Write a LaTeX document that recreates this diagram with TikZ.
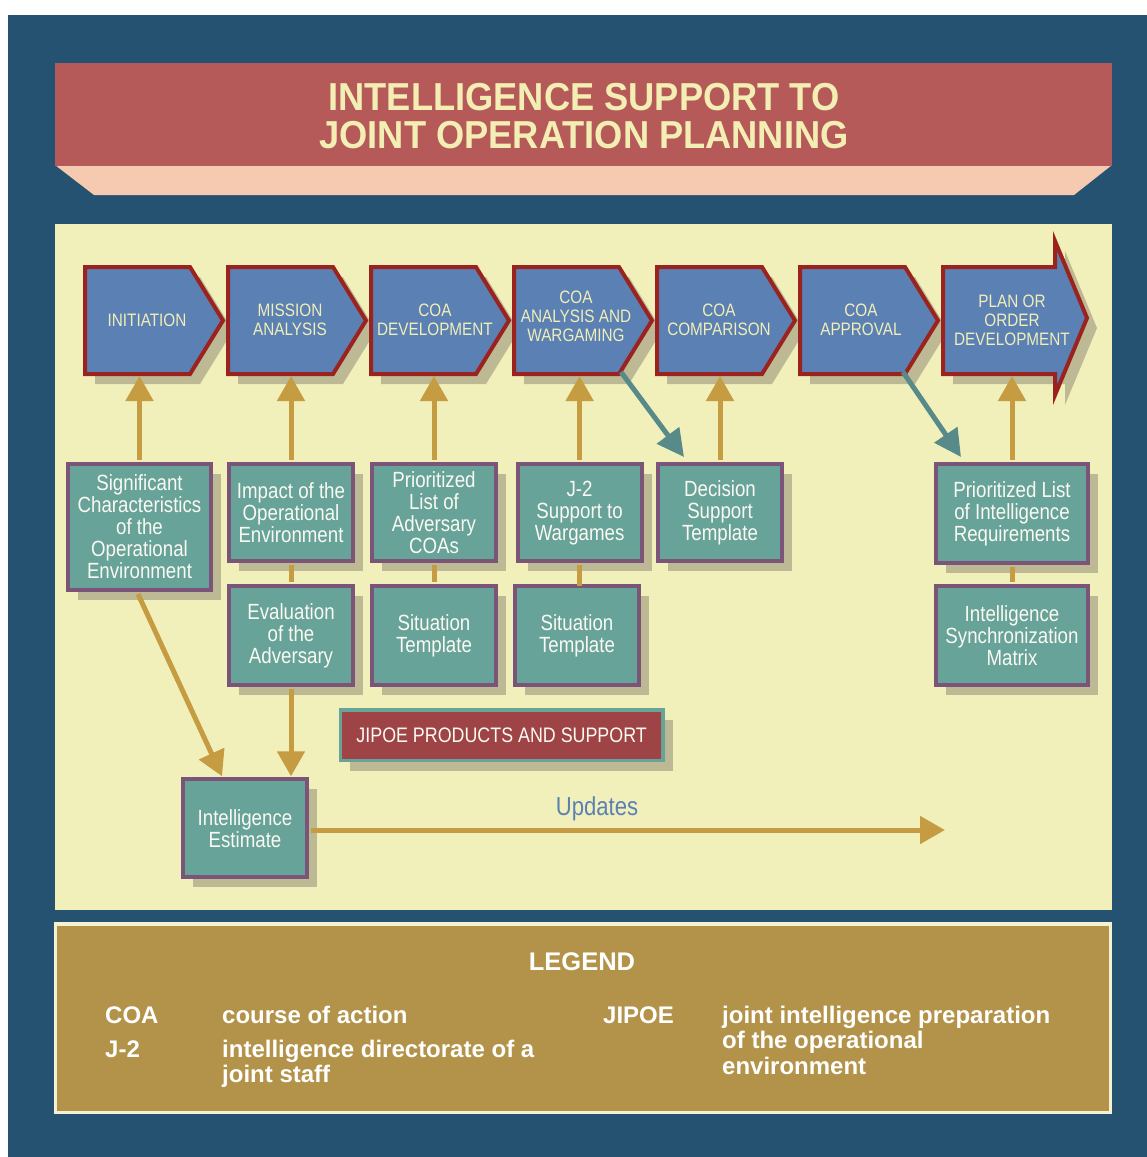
\documentclass[tikz,border=0pt]{standalone}
\usepackage{fontspec}
\setmainfont{Liberation Sans}
\newfontfamily\condfont[FakeStretch=0.85]{Liberation Sans}
\newfontfamily\titlefont[FakeStretch=0.93]{Liberation Sans}
\usetikzlibrary{arrows.meta,shadows,calc}

\definecolor{bgblue}{HTML}{245270}
\definecolor{titlered}{HTML}{B65A59}
\definecolor{peach}{HTML}{F5CAB0}
\definecolor{panel}{HTML}{F2F0BA}
\definecolor{titletxt}{HTML}{F3EEB4}
\definecolor{chevblue}{HTML}{5B80B4}
\definecolor{chevred}{HTML}{9B231F}
\definecolor{chevtxt}{HTML}{F1EEB7}
\definecolor{shadowc}{HTML}{BDB995}
\definecolor{boxteal}{HTML}{67A398}
\definecolor{boxpurple}{HTML}{7B5578}
\definecolor{boxtxt}{HTML}{FAF9F2}
\definecolor{gold}{HTML}{C59C42}
\definecolor{tealarrow}{HTML}{588A8A}
\definecolor{jipoered}{HTML}{9E4446}
\definecolor{legendgold}{HTML}{B39349}
\definecolor{legendborder}{HTML}{F5F2D3}

\tikzset{
  chevst/.style={fill=chevblue, draw=chevred, line width=4pt, line join=miter},
  chevtext/.style={text=chevtxt, font=\condfont\fontsize{18}{19}\selectfont, align=center, inner sep=0pt},
  ibox/.style={fill=boxteal, draw=boxpurple, line width=4pt, text=boxtxt,
    font=\condfont\fontsize{22}{22}\selectfont, align=center, inner sep=0pt,
    general shadow={fill=shadowc, shadow xshift=10pt, shadow yshift=-10pt}},
  jbox/.style={fill=jipoered, draw=boxteal, line width=3.5pt, text=boxtxt,
    font=\condfont\fontsize{21}{21}\selectfont, inner sep=0pt,
    general shadow={fill=shadowc, shadow xshift=10pt, shadow yshift=-10pt}},
  garrow/.style={draw=gold, line width=5pt, -{Triangle[width=27pt,length=25pt]}},
  gline/.style={draw=gold, line width=5pt},
  tarrow/.style={draw=tealarrow, line width=5pt, -{Triangle[width=27pt,length=27pt]}},
  legtext/.style={text=white, font=\fontsize{24}{25}\selectfont\bfseries, anchor=base west, inner sep=0pt},
}

\newcommand\mychev[5]{%
  \fill[shadowc] (#1+12,277) -- (#1+117,277) -- (#1+150,330.5) -- (#1+117,384) -- (#1+12,384) -- cycle;
  \draw[chevst] (#1+2,267) -- (#1+107,267) -- (#1+140,320.5) -- (#1+107,374) -- (#1+2,374) -- cycle;
  \node[chevtext] (#2) at (#3,#4) {#5};
  \coordinate (#2b) at (#3,376);
}

\begin{document}
\begin{tikzpicture}[x=1pt,y=-1pt]
\useasboundingbox (0,0) rectangle (1147,1157);
\fill[white] (0,0) rectangle (1147,1157);
\fill[bgblue] (8,15) rectangle (1147,1157);

% title banner
\fill[peach] (55,165) -- (1112,165) -- (1074,195) -- (94,195) -- cycle;
\fill[titlered] (55,63) rectangle (1112,166);
\node[text=titletxt, font=\titlefont\fontsize{39}{38}\selectfont\bfseries, align=center, inner sep=0pt]
  (title) at (584,116) {INTELLIGENCE SUPPORT TO\\JOINT OPERATION PLANNING};

% panel
\fill[panel] (55,224) rectangle (1112,910);

% chevrons
\mychev{83}{c1}{147}{320}{INITIATION}
\mychev{226}{c2}{290}{320}{MISSION\\ANALYSIS}
\mychev{369}{c3}{435}{320}{COA\\DEVELOPMENT}
\mychev{512}{c4}{576}{316}{COA\\ANALYSIS AND\\WARGAMING}
\mychev{655}{c5}{719}{320}{COA\\COMPARISON}
\mychev{798}{c6}{861}{320}{COA\\APPROVAL}
% final arrow-shaped chevron
\fill[shadowc] (953,277) -- (1065,277) -- (1065,251) -- (1097,328) -- (1065,405) -- (1065,384) -- (953,384) -- cycle;
\draw[chevst] (943,267) -- (1055,267) -- (1055,241) -- (1087,318) -- (1055,395) -- (1055,374) -- (943,374) -- cycle;
\node[chevtext] (c7) at (1012,320) {PLAN OR\\ORDER\\DEVELOPMENT};
\coordinate (c7b) at (1012,376);

% boxes
\node[ibox, minimum width=143pt, minimum height=126pt] (bsig) at (139.5,527) {Significant\\Characteristics\\of the\\Operational\\Environment};
\node[ibox, minimum width=124.3pt, minimum height=97.5pt] (bimp) at (291,512.6) {Impact of the\\Operational\\Environment};
\node[ibox, minimum width=124.3pt, minimum height=98.4pt] (beval) at (291,635.5) {Evaluation\\of the\\Adversary};
\node[ibox, minimum width=123.7pt, minimum height=97.5pt] (bpladv) at (434,512.6) {Prioritized\\List of\\Adversary\\COAs};
\node[ibox, minimum width=123.7pt, minimum height=98.4pt] (bsit1) at (434,635.5) {Situation\\Template};
\node[ibox, minimum width=124pt, minimum height=97.5pt] (bj2) at (579.6,512.6) {J-2\\Support to\\Wargames};
\node[ibox, minimum width=124pt, minimum height=98.4pt] (bsit2) at (577,635.5) {Situation\\Template};
\node[ibox, minimum width=124pt, minimum height=97.5pt] (bdst) at (720,512.6) {Decision\\Support\\Template};
\node[ibox, minimum width=152pt, minimum height=99pt] (bplir) at (1012,513.5) {Prioritized List\\of Intelligence\\Requirements};
\node[ibox, minimum width=152pt, minimum height=98.7pt] (bism) at (1012,635.6) {Intelligence\\Synchronization\\Matrix};
\node[ibox, minimum width=123.7pt, minimum height=98pt] (bie) at (245,828.3) {Intelligence\\Estimate};
\node[jbox, minimum width=322.5pt, minimum height=50.5pt] (jipoe) at (501.6,735.3) {JIPOE PRODUCTS AND SUPPORT};

% gold arrows up to chevrons
\draw[garrow] ([yshift=2pt]bsig.north) -- (bsig.north |- c1b);
\draw[garrow] ([yshift=2pt]bimp.north) -- (bimp.north |- c2b);
\draw[garrow] ([yshift=2pt]bpladv.north) -- (bpladv.north |- c3b);
\draw[garrow] ([yshift=2pt]bj2.north) -- (bj2.north |- c4b);
\draw[garrow] ([yshift=2pt]bdst.north) -- (bdst.north |- c5b);
\draw[garrow] ([yshift=2pt]bplir.north) -- (bplir.north |- c7b);

% connectors between stacked boxes
\draw[gline] ([yshift=-2pt]bimp.south) -- ([yshift=2pt]beval.north);
\draw[gline] ([yshift=-2pt]bpladv.south) -- ([yshift=2pt]bsit1.north);
\draw[gline] ([yshift=-2pt]bj2.south) -- ([yshift=-2pt]bj2.south |- bsit2.north);
\draw[gline] ([yshift=-2pt]bplir.south) -- ([yshift=2pt]bism.north);

% arrows into Intelligence Estimate
\coordinate (ietop) at ($(bie.north west)!0.32!(bie.north east)$);
\draw[garrow] ([xshift=-1.5pt,yshift=-2pt]bsig.south) -- ([yshift=1pt]ietop);
\draw[garrow] ([yshift=-2pt]beval.south) -- ([yshift=1pt]beval.south |- bie.north);

% updates arrow
\coordinate (upd) at (945,830);
\draw[garrow] ([xshift=2pt]bie.east |- upd) -- (upd);
\node[text=chevblue, font=\condfont\fontsize{26}{26}\selectfont, inner sep=0pt] (updlbl) at (597,808.5) {Updates};

% teal arrows
\coordinate (s1) at (621,372);
\coordinate (t1) at (684,457);
\coordinate (s2) at (903,372);
\coordinate (t2) at (961,457);
\draw[tarrow] (s1) -- (t1);
\draw[tarrow] (s2) -- (t2);

% legend
\node[fill=legendgold, draw=legendborder, line width=3.5pt, minimum width=1055pt, minimum height=188.5pt, inner sep=0pt] (legend) at (582.75,1018) {};
\node[text=white, font=\fontsize{25.5}{26}\selectfont\bfseries, anchor=base, inner sep=0pt] (legtitle) at (582,970) {LEGEND};
\node[legtext] (lcoa) at (105,1023) {COA};
\node[legtext] (lcoad) at (222,1023) {course of action};
\node[legtext] (lj2) at (105,1057) {J-2};
\node[legtext] (lj2d) at (222,1057) {intelligence directorate of a};
\node[legtext] (lj2e) at (222,1082) {joint staff};
\node[legtext] (ljipoe) at (603,1023) {JIPOE};
\node[legtext] (ljipoed) at (722,1023) {joint intelligence preparation};
\node[legtext] (ljipoee) at (722,1048) {of the operational};
\node[legtext] (ljipoef) at (722,1074) {environment};
\end{tikzpicture}
\end{document}
